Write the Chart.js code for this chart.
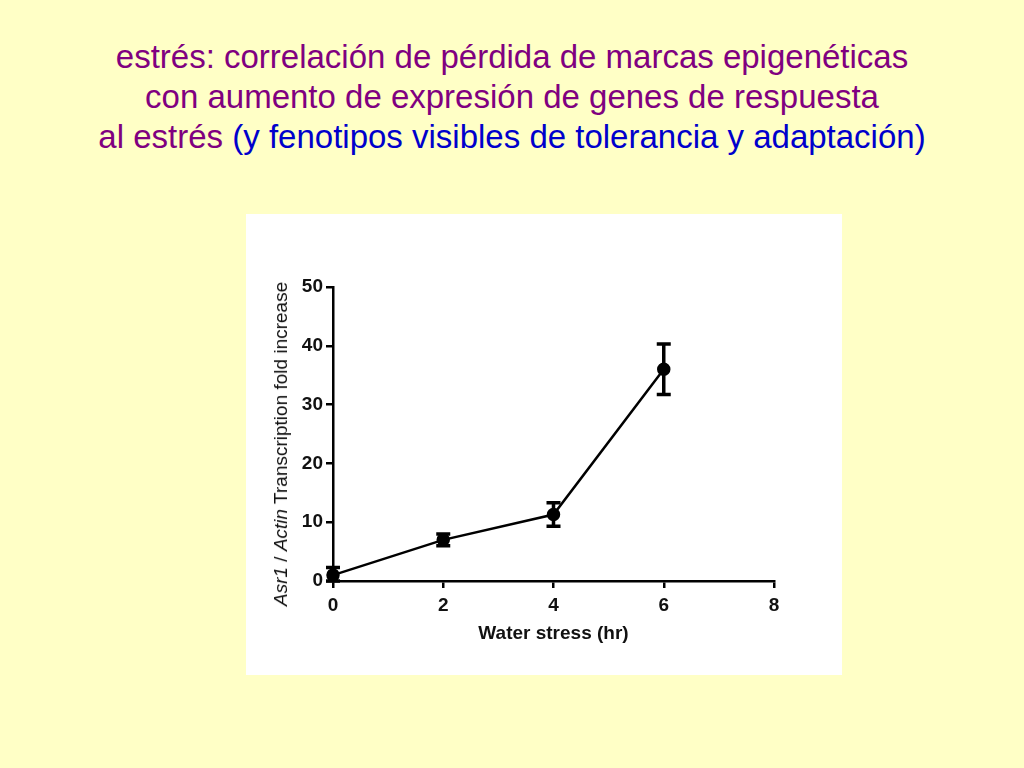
<!DOCTYPE html>
<html>
<head>
<meta charset="utf-8">
<script src="https://cdn.jsdelivr.net/npm/chart.js@4"></script>
<style>
  body { margin: 0; width: 1024px; height: 768px; background: #ffffc6; position: relative; overflow: hidden; font-family: "Liberation Sans", Arial, sans-serif; }
  #title { position: absolute; top: 37px; left: 0; width: 1024px; text-align: center; font-size: 33px; line-height: 40px; color: #800080; }
  #title .blue { color: #0000cc; }
  #panel { position: absolute; left: 246px; top: 214px; width: 596px; height: 461px; background: #fff; }
  #ylab { position: absolute; left: 281px; top: 444px; transform: translate(-50%, -50%) rotate(-90deg); white-space: nowrap; font-size: 19px; color: #111; }
</style>
</head>
<body>
<div id="title">estrés: correlación de pérdida de marcas epigenéticas<br>con aumento de expresión de genes de respuesta<br>al estrés <span class="blue">(y fenotipos visibles de tolerancia y adaptación)</span></div>
<div id="panel"><canvas id="chart" width="596" height="461"></canvas></div>
<div id="ylab"><i>Asr1</i> / <i>Actin</i> Transcription fold increase</div>
<script>
// datos
const hours = [0, 2, 4, 6];
const foldIncrease = [1, 7, 11.3, 36];
const errors = [1.3, 1, 2, 4.3];
const xTicks = [0, 2, 4, 6, 8];
const yTicks = [0, 10, 20, 30, 40, 50];

const errorBars = {
  id: 'errorBars',
  afterDatasetsDraw(chart) {
    const { ctx, scales: { x, y } } = chart;
    ctx.save();
    ctx.strokeStyle = '#000';
    ctx.lineWidth = 3.5;
    hours.forEach((h, i) => {
      const px = x.getPixelForValue(h);
      const top = y.getPixelForValue(foldIncrease[i] + errors[i]);
      const bot = y.getPixelForValue(Math.max(0, foldIncrease[i] - errors[i]));
      ctx.beginPath();
      ctx.moveTo(px, top); ctx.lineTo(px, bot);
      ctx.moveTo(px - 7, top); ctx.lineTo(px + 7, top);
      ctx.moveTo(px - 7, bot); ctx.lineTo(px + 7, bot);
      ctx.stroke();
    });
    ctx.restore();
  }
};

const tickFont = { family: '"Liberation Sans", Arial', size: 19, weight: 'bold' };

new Chart(document.getElementById('chart').getContext('2d'), {
  type: 'scatter',
  data: {
    datasets: [{
      data: hours.map((h, i) => ({ x: h, y: foldIncrease[i] })),
      showLine: true,
      borderColor: '#000',
      borderWidth: 2.5,
      backgroundColor: '#000',
      pointRadius: 5.5,
      clip: false
    }]
  },
  options: {
    responsive: false,
    animation: false,
    layout: { padding: { left: 0, top: 73, right: 68, bottom: 30 } },
    plugins: { legend: { display: false }, tooltip: { enabled: false } },
    scales: {
      x: {
        type: 'linear', min: 0, max: 8,
        afterBuildTicks: s => { s.ticks = xTicks.map(v => ({ value: v })); },
        afterFit: s => { s.height = 64; },
        border: { color: '#000', width: 2.5 },
        grid: { drawOnChartArea: false, color: '#000', lineWidth: 2.5, tickLength: 7 },
        ticks: { color: '#111', font: tickFont, maxRotation: 0, padding: 6 },
        title: { display: true, text: 'Water stress (hr)', color: '#111', font: { family: '"Liberation Sans", Arial', size: 19, weight: 'bold' }, padding: 0 }
      },
      y: {
        type: 'linear', min: 0, max: 50,
        afterBuildTicks: s => { s.ticks = yTicks.map(v => ({ value: v })); },
        afterFit: s => { s.width = 87; },
        border: { color: '#000', width: 2.5 },
        grid: { drawOnChartArea: false, color: '#000', lineWidth: 2.5, tickLength: 7 },
        ticks: { color: '#111', font: tickFont, padding: 3 }
      }
    }
  },
  plugins: [errorBars]
});
</script>
</body>
</html>
